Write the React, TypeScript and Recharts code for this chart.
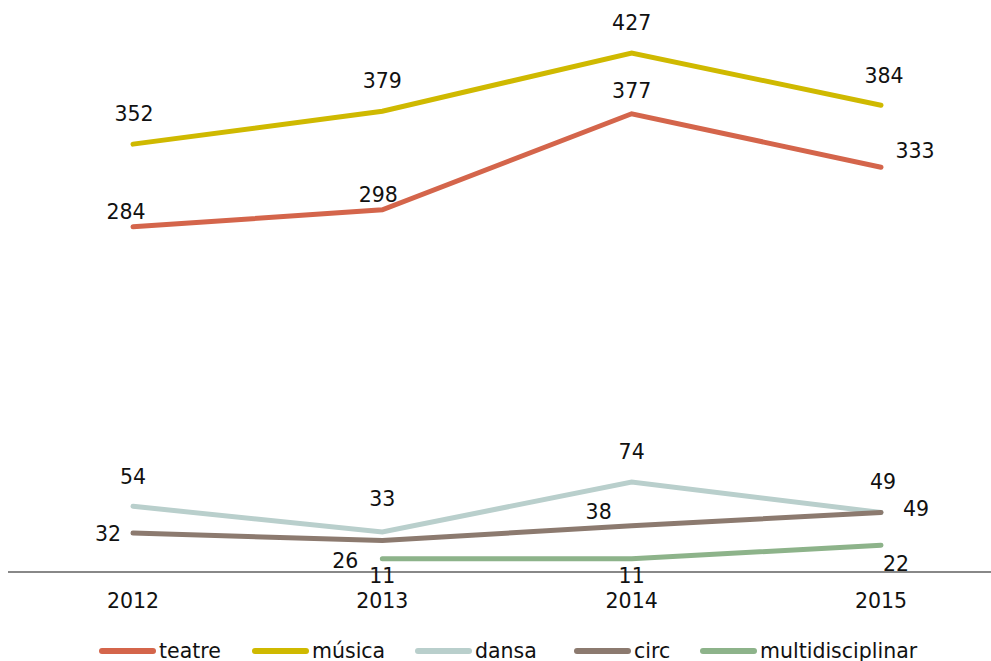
import React from 'react';
import { LineChart, Line, XAxis, YAxis } from 'recharts';

const years = ['2012', '2013', '2014', '2015'];
const teatre = [284, 298, 377, 333];
const musica = [352, 379, 427, 384];
const dansa = [54, 33, 74, 49];
const circ = [32, 26, 38, 49];
const multidisciplinar = [null, 11, 11, 22];

const data = years.map((year, i) => ({
  year,
  teatre: teatre[i],
  musica: musica[i],
  dansa: dansa[i],
  circ: circ[i],
  multidisciplinar: multidisciplinar[i],
}));

// label nudges per point, [dx, dy] from the point to the label's centre
const labelOffsets: Record<string, number[][]> = {
  teatre: [[-7, -15], [-4, -15], [0, -23], [34, -16]],
  musica: [[1, -30], [0, -30], [0, -30], [3, -29]],
  dansa: [[0, -29], [0, -33], [0, -30], [2, -30]],
  circ: [[-25, 1], [-37, 21], [-33, -14], [35, -3]],
  multidisciplinar: [[0, 0], [0, 17], [0, 17], [15, 19]],
};

const series = [
  { key: 'teatre', name: 'teatre', color: '#d4654b' },
  { key: 'musica', name: 'música', color: '#cfb900' },
  { key: 'dansa', name: 'dansa', color: '#b9cfcc' },
  { key: 'circ', name: 'circ', color: '#8c7a6f' },
  { key: 'multidisciplinar', name: 'multidisciplinar', color: '#8db38a' },
];

// left edge of each legend swatch
const legendLeft = [99, 252, 415, 574, 700];

const font = '"DejaVu Sans", Verdana, sans-serif';

const makeLabel = (key: string) => (props: any) => {
  const { x, y, value, index } = props;
  if (value == null) return null;
  const [dx, dy] = labelOffsets[key][index];
  return (
    <text
      key={`${key}-${index}`}
      x={x + dx}
      y={y + dy}
      textAnchor="middle"
      dominantBaseline="central"
      fontFamily={font}
      fontSize={20.5}
      fill="#111"
    >
      {value}
    </text>
  );
};

const YearTick = (props: any) => {
  const { x, y, payload } = props;
  return (
    <text x={x} y={y} dy={36} textAnchor="middle" fontFamily={font} fontSize={20.5} fill="#111">
      {payload.value}
    </text>
  );
};

export default function App() {
  return (
    <div style={{ width: 991, height: 661, overflow: 'hidden', position: 'relative' }}>
      <style>{'body { margin: 0; }'}</style>
      <div style={{ position: 'absolute', left: 8, top: 8 }}>
        <LineChart width={983} height={604} data={data} margin={{ top: 17, right: 0, left: 0, bottom: 0 }}>
          <XAxis
            dataKey="year"
            padding={{ left: 125, right: 110 }}
            axisLine={{ stroke: '#888888', strokeWidth: 2 }}
            tickLine={false}
            tickSize={0}
            tickMargin={0}
            height={40}
            tick={<YearTick />}
          />
          <YAxis hide domain={[0, 450]} />
          {series.map((s) => (
            <Line
              key={s.key}
              dataKey={s.key}
              name={s.name}
              stroke={s.color}
              strokeWidth={5}
              strokeLinecap="round"
              dot={false}
              activeDot={false}
              isAnimationActive={false}
              label={makeLabel(s.key)}
            />
          ))}
        </LineChart>
      </div>
      {series.map((s, i) => (
        <div
          key={s.key}
          style={{
            position: 'absolute',
            top: 641,
            left: legendLeft[i],
            height: 20,
            display: 'flex',
            alignItems: 'center',
            fontFamily: font,
            fontSize: 20.5,
            lineHeight: '20px',
            color: '#111',
            whiteSpace: 'nowrap',
          }}
        >
          <span style={{ display: 'inline-block', width: 57, height: 6, borderRadius: 3, background: s.color, marginRight: 3 }} />
          <span>{s.name}</span>
        </div>
      ))}
    </div>
  );
}
